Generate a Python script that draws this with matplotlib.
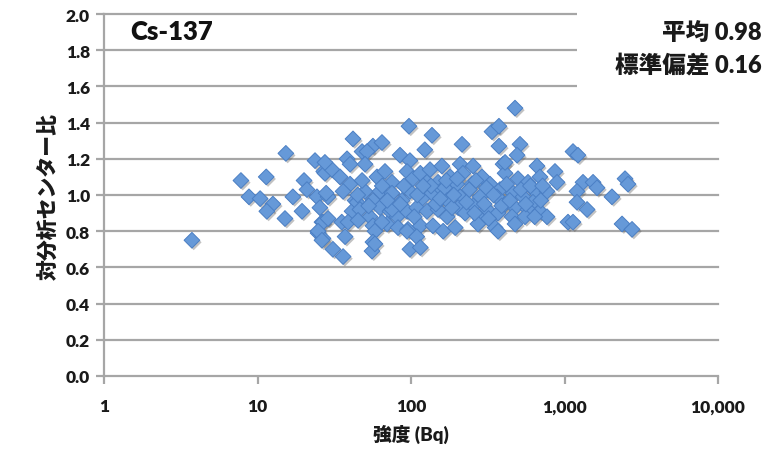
import matplotlib
matplotlib.use("Agg")
import matplotlib.pyplot as plt
import matplotlib.patheffects as pe
from matplotlib.patches import Rectangle
from matplotlib.ticker import FixedLocator, FixedFormatter, NullLocator

plt.rcParams['font.family'] = ['Lato', 'Noto Sans CJK JP', 'DejaVu Sans']

title = "Cs-137"
stats_lines = ["平均 0.98", "標準偏差 0.16"]
xlabel = "強度 (Bq)"
ylabel = "対分析センター比"
xticks = [1, 10, 100, 1000, 10000]
xtick_labels = ["1", "10", "100", "1,000", "10,000"]
yticks = [0.0, 0.2, 0.4, 0.6, 0.8, 1.0, 1.2, 1.4, 1.6, 1.8, 2.0]

# intensity (Bq)
intensity = [
    3.74, 7.8, 8.8, 10.4, 11.4, 12.6, 11.5, 15.1, 15.3, 17.0, 19.5, 20.1, 21.0,
    23.7, 24.4, 25.5, 26.3, 24.8, 26.7, 27.0,
    27.5, 30.6, 28.8, 26.7, 24.8, 26.3, 31.0, 36.1, 37.2, 34.5, 38.3, 40.1,
    27.5, 40.1, 28.0, 43.2, 28.8, 35.4, 41.3, 38.9, 36.1,
    41.9, 48.0, 56.5, 64.7, 51.7, 50.2, 84.8, 98.4, 60.0, 67.7, 75.2, 94.2,
    50.2, 56.5, 62.8, 75.2, 87.4, 98.4, 44.5, 46.5, 54.0, 62.8, 73.0, 81.1,
    94.2, 45.2, 56.5, 69.8, 82.3, 95.6, 64.7, 58.2, 94.2, 56.5, 55.7, 58.2,
    98.4, 75.2,
    97.0, 137, 123, 103, 115, 133, 159, 127, 150, 118, 137, 159, 109, 127,
    150, 172, 115, 139, 162, 109, 115, 209, 254, 180, 218, 166, 199, 250,
    172, 209, 282, 203, 254, 313, 225, 282, 194, 273, 215,
    476, 337, 374, 374, 513, 491, 398, 662, 867, 290, 410, 498, 578, 692,
    894, 327, 380, 462, 643, 769, 363, 537, 623, 410, 476, 578, 692, 369,
    455, 553, 769, 353, 476, 369, 410,
    1054, 1136, 1224, 1320, 1535, 1629, 1206, 1206, 1403, 2038, 2479, 2593,
    1136, 2371, 2754,
    135, 145, 155, 170, 185, 190, 200, 230, 240, 260, 265, 300, 310, 320,
    345, 390, 420, 440, 520, 560, 600, 640, 700, 720, 110, 120, 105, 90, 85,
    70, 65, 48, 45, 53,
]

# ratio to analysis centre
ratio = [
    0.75, 1.08, 0.99, 0.98, 1.10, 0.95, 0.91, 0.87, 1.23, 0.99, 0.91, 1.08, 1.03,
    1.19, 0.99, 0.93, 0.85, 0.79, 0.76, 1.13,
    1.12, 1.14, 0.99, 0.85, 0.80, 0.75, 0.70, 0.66, 0.77, 1.10, 1.20, 1.17,
    1.18, 1.06, 1.01, 0.97, 0.87, 0.85, 0.91, 0.85, 1.02,
    1.31, 1.24, 1.27, 1.29, 1.24, 1.17, 1.22, 1.19, 1.10, 1.13, 1.07, 1.13,
    1.02, 0.97, 1.02, 1.01, 0.97, 1.02, 0.96, 0.92, 0.88, 0.93, 0.91, 0.88,
    0.91, 0.86, 0.83, 0.84, 0.82, 0.81, 0.85, 0.80, 0.80, 0.74, 0.69, 0.73,
    0.70, 0.92,
    1.38, 1.33, 1.25, 1.09, 1.12, 1.14, 1.16, 1.07, 1.07, 0.98, 1.01, 1.03,
    0.93, 0.91, 0.92, 0.88, 0.83, 0.83, 0.80, 0.77, 0.71, 1.17, 1.16, 1.10,
    1.12, 1.04, 1.06, 1.06, 0.97, 0.99, 0.99, 0.93, 0.94, 0.92, 0.90, 0.87,
    0.82, 0.84, 1.28,
    1.48, 1.35, 1.38, 1.27, 1.28, 1.22, 1.17, 1.16, 1.13, 1.10, 1.12, 1.09,
    1.07, 1.10, 1.07, 1.06, 1.03, 1.01, 1.02, 1.02, 0.99, 0.99, 0.96, 0.95,
    0.93, 0.92, 0.91, 0.90, 0.88, 0.88, 0.88, 0.82, 0.84, 0.80, 1.18,
    0.85, 1.24, 1.22, 1.07, 1.07, 1.04, 1.02, 0.96, 0.92, 0.99, 1.09, 1.06,
    0.85, 0.84, 0.81,
    1.05, 0.95, 0.98, 1.08, 0.93, 1.00, 1.09, 0.96, 1.03, 0.90, 1.08, 0.95,
    1.04, 0.87, 1.00, 0.94, 1.06, 0.97, 1.03, 0.95, 1.05, 0.88, 0.97, 1.05,
    1.00, 1.05, 0.88, 1.05, 0.95, 0.97, 1.05, 1.08, 1.00, 0.94,
]

W, H = 767, 452
fig = plt.figure(figsize=(W / 100, H / 100), dpi=100)
ax = fig.add_axes([104 / W, 1 - 377 / H, (718 - 104) / W, (377 - 15) / H])

grid_color = "#a6a6a6"
text_color = "#1a1a1a"
ax.set_xscale("log")
ax.set_xlim(1, 10000)
ax.set_ylim(0, 2.0)

for yv in yticks[1:]:
    ax.axhline(yv, color=grid_color, lw=1.6, zorder=1, clip_on=False)

ax.scatter(intensity, ratio, marker="D", s=64, facecolor="#6699d8",
           edgecolor="#4b7fc4", linewidth=0.7, zorder=3,
           path_effects=[pe.SimplePatchShadow(offset=(1.3, -1.5), alpha=0.35,
                                              shadow_rgbFace="#505050"),
                         pe.Normal()])

for s in ["top", "right"]:
    ax.spines[s].set_visible(False)
for s in ["left", "bottom"]:
    ax.spines[s].set_color(grid_color)
    ax.spines[s].set_linewidth(1.6)

ax.xaxis.set_major_locator(FixedLocator(xticks))
ax.xaxis.set_major_formatter(FixedFormatter(xtick_labels))
ax.xaxis.set_minor_locator(NullLocator())
ax.set_yticks(yticks)
ax.set_yticklabels([f"{v:.1f}" for v in yticks])
ax.tick_params(axis="both", direction="out", color=grid_color, width=1.6,
               length=6, labelsize=12.5)
ax.tick_params(axis="x", pad=10)
ax.tick_params(axis="y", pad=4)
for lab in ax.get_xticklabels() + ax.get_yticklabels():
    lab.set_fontweight("heavy")
    lab.set_color(text_color)

ax.set_xlabel(xlabel, fontsize=13.5, fontweight="heavy", color=text_color, labelpad=7)
ax.set_ylabel(ylabel, fontsize=15, fontweight="heavy", color=text_color, labelpad=6)

ax.text(130 / W, 1 - 32 / H, title, transform=fig.transFigure, fontsize=18.5,
        fontweight="heavy", color="#111111", va="center", ha="left")

# white box covering gridlines behind stats text
fig.add_artist(Rectangle((577 / W, 1 - 92 / H), (W - 577) / W, 90 / H,
                         transform=fig.transFigure, facecolor="white",
                         edgecolor="none", zorder=5))
fig.text(762 / W, 1 - 33 / H, stats_lines[0], fontsize=17, fontweight="heavy",
         color=text_color, ha="right", va="center", zorder=6)
fig.text(762 / W, 1 - 65 / H, stats_lines[1], fontsize=17, fontweight="heavy",
         color=text_color, ha="right", va="center", zorder=6)

fig.savefig("out.png", dpi=100)
